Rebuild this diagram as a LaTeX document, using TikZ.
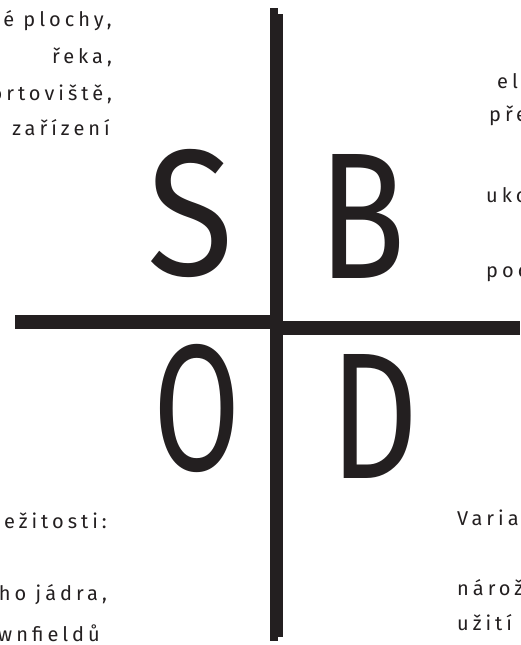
\documentclass[tikz,border=0pt]{standalone}
\usepackage{fontspec}
\setmainfont{Fira Sans}[LetterSpace=20]
\newfontfamily\bigfont{Fira Sans}
\usepackage{xcolor}
\usepackage{graphicx}
\usetikzlibrary{positioning}
\definecolor{ink}{HTML}{231F20}

\begin{document}
\begin{tikzpicture}[
  x=1pt, y=-1pt,
  bar/.style={fill=ink, draw=none},
  letter/.style={font=\bigfont\fontsize{180}{180}\selectfont, text=ink, inner sep=0pt, anchor=base},
  txt/.style={font=\fontsize{20}{36}\selectfont, text=ink, inner sep=0pt}
]
\path[use as bounding box, clip] (0,0) rectangle (520,645);
% the cross
\fill[bar] (270,8) rectangle (277.5,329);
\fill[bar] (277.5,14) rectangle (282.5,329);
\fill[bar] (15,315) rectangle (282.5,329.3);
\fill[bar] (282.5,320.7) rectangle (520,335);
\fill[bar] (270,315) rectangle (277.5,640.7);
\fill[bar] (277.5,315) rectangle (282.5,636.5);
% letters
\node[letter] (ls) at (190.5,275) {\scalebox{0.88}[1]{S}};
\node[letter] (lb) at (362,278) {\scalebox{0.8}[1]{B}};
\node[letter] (lo) at (197.5,470) {\scalebox{0.7}[1]{O}};
\node[letter] (ld) at (374.5,478) {\scalebox{0.76}[1]{D}};
% top left
\node[txt, anchor=base east] (s1) at (112,26) {né plochy,};
\node[txt, anchor=base east] (s2) at (112,63) {řeka,};
\node[txt, anchor=base east] (s3) at (112,100) {ortoviště,};
\node[txt, anchor=base east] (s4) at (110,135) {zařízení};
% top right
\node[txt, anchor=base west] (b1) at (497,88) {el};
\node[txt, anchor=base west] (b2) at (489,121) {pře};
\node[txt, anchor=base west] (b3) at (486,202) {uko};
\node[txt, anchor=base west] (b4) at (486,277) {poc};
% bottom left
\node[txt, anchor=base east] (o1) at (107,528) {ležitosti:};
\node[txt, anchor=base east] (o2) at (107,600) {ho jádra,};
\node[txt, anchor=base east] (o3) at (100,641) {wnfieldů};
% bottom right
\node[txt, anchor=base west] (d1) at (457,525) {Varia};
\node[txt, anchor=base west] (d2) at (457,595) {nárož};
\node[txt, anchor=base west] (d3) at (457,630) {užití};
\end{tikzpicture}
\end{document}
